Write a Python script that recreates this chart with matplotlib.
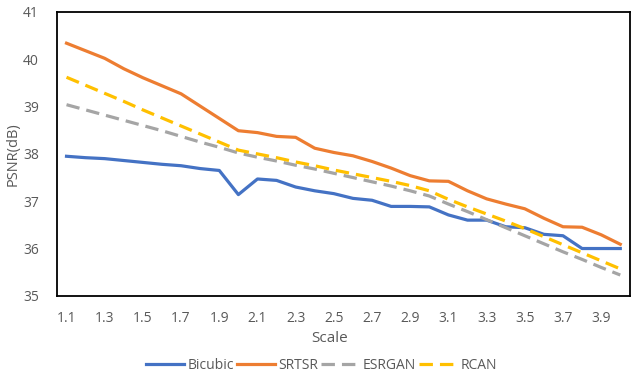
import numpy as np
import matplotlib
matplotlib.use("Agg")
import matplotlib.pyplot as plt

plt.rcParams['font.family'] = ['Open Sans', 'DejaVu Sans']

scales = ["1.1", "1.2", "1.3", "1.4", "1.5", "1.6", "1.7", "1.8", "1.9", "2.0",
          "2.1", "2.2", "2.3", "2.4", "2.5", "2.6", "2.7", "2.8", "2.9", "3.0",
          "3.1", "3.2", "3.3", "3.4", "3.5", "3.6", "3.7", "3.8", "3.9", "4.0"]

bicubic = [37.95, 37.92, 37.90, 37.86, 37.82, 37.78, 37.75, 37.69, 37.65, 37.14,
           37.47, 37.44, 37.30, 37.22, 37.16, 37.06, 37.02, 36.89, 36.89, 36.88,
           36.71, 36.60, 36.60, 36.46, 36.44, 36.30, 36.27, 36.00, 36.00, 36.00]
srtsr = [40.34, 40.18, 40.02, 39.80, 39.61, 39.44, 39.27, 39.01, 38.75, 38.49,
         38.45, 38.37, 38.35, 38.12, 38.03, 37.96, 37.84, 37.70, 37.54, 37.43,
         37.42, 37.22, 37.05, 36.94, 36.84, 36.64, 36.46, 36.45, 36.29, 36.09]
esrgan = [39.04, 38.93, 38.82, 38.71, 38.60, 38.49, 38.37, 38.25, 38.14, 38.02,
          37.93, 37.85, 37.76, 37.68, 37.59, 37.50, 37.41, 37.32, 37.22, 37.11,
          36.94, 36.78, 36.61, 36.44, 36.27, 36.10, 35.93, 35.77, 35.60, 35.44]
rcan = [39.62, 39.45, 39.28, 39.11, 38.93, 38.76, 38.59, 38.42, 38.25, 38.08,
        38.00, 37.92, 37.83, 37.75, 37.66, 37.58, 37.50, 37.42, 37.33, 37.22,
        37.04, 36.88, 36.73, 36.58, 36.42, 36.25, 36.08, 35.91, 35.74, 35.57]

names = ["Bicubic", "SRTSR", "ESRGAN", "RCAN"]
colors = ["#4472C4", "#ED7D31", "#A5A5A5", "#FFC000"]
text_color = "#595959"

fig = plt.figure(figsize=(6.33, 3.74), dpi=100)
ax = fig.add_axes([0.090, 0.209, 0.905, 0.759])

x = np.arange(len(scales))
for name, vals, c in zip(names, [bicubic, srtsr, esrgan, rcan], colors):
    if name in ("ESRGAN", "RCAN"):
        ax.plot(x, vals, color=c, lw=2.3, dashes=(4.2, 2.2), label=name)
    else:
        ax.plot(x, vals, color=c, lw=2.3, label=name)

ax.set_xlim(-0.5, len(scales) - 0.5)
ax.set_ylim(35, 41)
ax.set_xticks(x[::2])
ax.set_xticklabels(scales[::2])
ax.set_yticks(np.arange(35, 42, 1))
ax.tick_params(length=0, colors=text_color, labelsize=10)
ax.tick_params(axis="y", pad=13)
ax.tick_params(axis="x", pad=11)
for s in ax.spines.values():
    s.set_color("black")
    s.set_linewidth(1.3)

ax.set_xlabel("Scale", color=text_color, fontsize=11)
ax.xaxis.set_label_coords(0.476, -0.125)
ax.set_ylabel("PSNR(dB)", color=text_color, fontsize=10.5, labelpad=2)

ax.legend(loc="upper center", bbox_to_anchor=(0.462, -0.175), ncol=4, frameon=False,
          fontsize=10, labelcolor=text_color, handlelength=2.7, columnspacing=0.2,
          handletextpad=0.3)

fig.savefig("out.png", dpi=100)
